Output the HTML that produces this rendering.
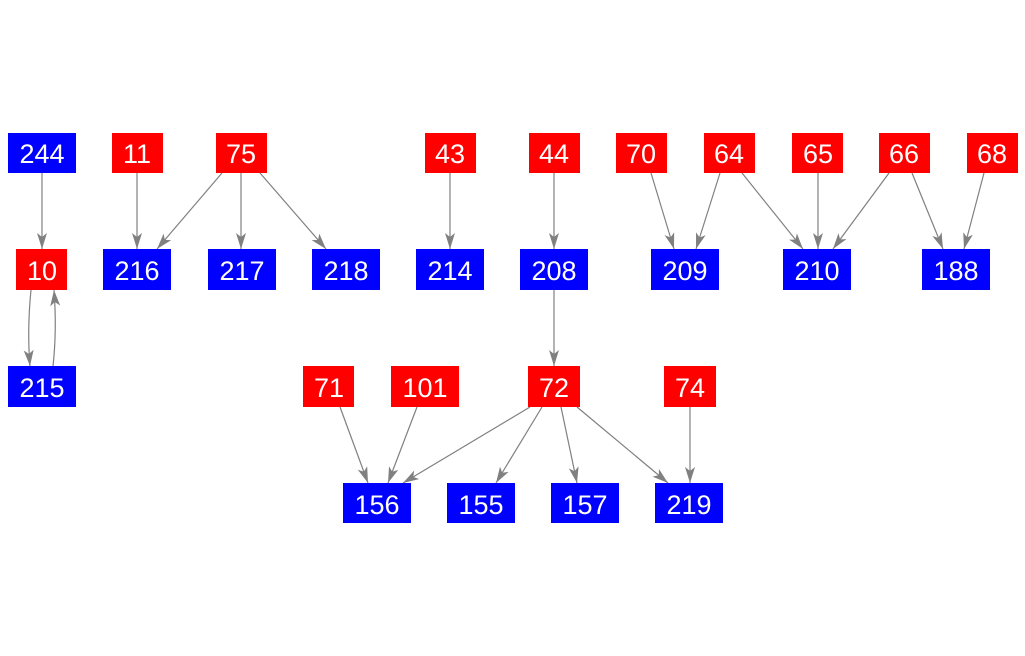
<!DOCTYPE html>
<html><head><style>body{margin:0;background:#fff}svg{display:block}text{font-family:"Liberation Sans",sans-serif;font-size:27px;fill:#fff;text-anchor:middle;dominant-baseline:central}</style></head><body>
<svg width="1025" height="656" viewBox="0 0 1025 656">
<defs><marker id="a" viewBox="0 0 16 10" refX="16" refY="5" markerWidth="16" markerHeight="10" markerUnits="userSpaceOnUse" orient="auto"><path d="M0,0L16,5L0,10L4,5z" fill="#808080"/></marker></defs>
<g stroke="#808080" stroke-width="1.2" fill="none" marker-end="url(#a)">
<line x1="42" y1="173" x2="42" y2="249"/>
<path d="M31,290 Q27,330 30,366"/>
<path d="M53,366 Q57,330 54,290"/>
<line x1="137" y1="173" x2="137" y2="249"/>
<line x1="222" y1="173" x2="157" y2="249"/>
<line x1="241" y1="173" x2="241" y2="249"/>
<line x1="260" y1="173" x2="326" y2="249"/>
<line x1="450" y1="173" x2="450" y2="249"/>
<line x1="554" y1="173" x2="554" y2="249"/>
<line x1="651" y1="173" x2="674" y2="249"/>
<line x1="720" y1="173" x2="696" y2="249"/>
<line x1="742" y1="173" x2="803" y2="249"/>
<line x1="818" y1="173" x2="818" y2="249"/>
<line x1="889" y1="173" x2="833" y2="249"/>
<line x1="912" y1="173" x2="943" y2="249"/>
<line x1="984" y1="173" x2="964" y2="249"/>
<line x1="554" y1="290" x2="554" y2="366"/>
<line x1="340" y1="407" x2="368" y2="483"/>
<line x1="417" y1="407" x2="388" y2="483"/>
<line x1="530" y1="407" x2="403" y2="483"/>
<line x1="542" y1="407" x2="496" y2="483"/>
<line x1="561" y1="407" x2="577" y2="483"/>
<line x1="577" y1="407" x2="668" y2="483"/>
<line x1="690" y1="407" x2="690" y2="483"/>
</g>
<g>
<rect x="8" y="133" width="68" height="40" fill="#0000ff"/><text x="42" y="154">244</text>
<rect x="112" y="133" width="51" height="40" fill="#ff0000"/><text x="137" y="154">11</text>
<rect x="216" y="133" width="51" height="40" fill="#ff0000"/><text x="241" y="154">75</text>
<rect x="425" y="133" width="51" height="40" fill="#ff0000"/><text x="450" y="154">43</text>
<rect x="529" y="133" width="51" height="40" fill="#ff0000"/><text x="554" y="154">44</text>
<rect x="616" y="133" width="51" height="40" fill="#ff0000"/><text x="641" y="154">70</text>
<rect x="704" y="133" width="51" height="40" fill="#ff0000"/><text x="729" y="154">64</text>
<rect x="792" y="133" width="51" height="40" fill="#ff0000"/><text x="818" y="154">65</text>
<rect x="879" y="133" width="51" height="40" fill="#ff0000"/><text x="904" y="154">66</text>
<rect x="967" y="133" width="51" height="40" fill="#ff0000"/><text x="992" y="154">68</text>

<rect x="16" y="249" width="51" height="41" fill="#ff0000"/><text x="42" y="271">10</text>
<rect x="103" y="249" width="68" height="41" fill="#0000ff"/><text x="137" y="271">216</text>
<rect x="208" y="249" width="68" height="41" fill="#0000ff"/><text x="242" y="271">217</text>
<rect x="312" y="249" width="68" height="41" fill="#0000ff"/><text x="346" y="271">218</text>
<rect x="416" y="249" width="68" height="41" fill="#0000ff"/><text x="450" y="271">214</text>
<rect x="520" y="249" width="68" height="41" fill="#0000ff"/><text x="554" y="271">208</text>
<rect x="651" y="249" width="68" height="41" fill="#0000ff"/><text x="685" y="271">209</text>
<rect x="783" y="249" width="68" height="41" fill="#0000ff"/><text x="817" y="271">210</text>
<rect x="922" y="249" width="68" height="41" fill="#0000ff"/><text x="956" y="271">188</text>

<rect x="8" y="366" width="68" height="41" fill="#0000ff"/><text x="42" y="388">215</text>
<rect x="303" y="366" width="51" height="41" fill="#ff0000"/><text x="329" y="388">71</text>
<rect x="391" y="366" width="68" height="41" fill="#ff0000"/><text x="425" y="388">101</text>
<rect x="528" y="366" width="52" height="41" fill="#ff0000"/><text x="554" y="388">72</text>
<rect x="664" y="366" width="52" height="41" fill="#ff0000"/><text x="690" y="388">74</text>

<rect x="343" y="483" width="68" height="40" fill="#0000ff"/><text x="377" y="505">156</text>
<rect x="447" y="483" width="68" height="40" fill="#0000ff"/><text x="481" y="505">155</text>
<rect x="551" y="483" width="68" height="40" fill="#0000ff"/><text x="585" y="505">157</text>
<rect x="655" y="483" width="68" height="40" fill="#0000ff"/><text x="689" y="505">219</text>
</g>
</svg>
</body></html>
